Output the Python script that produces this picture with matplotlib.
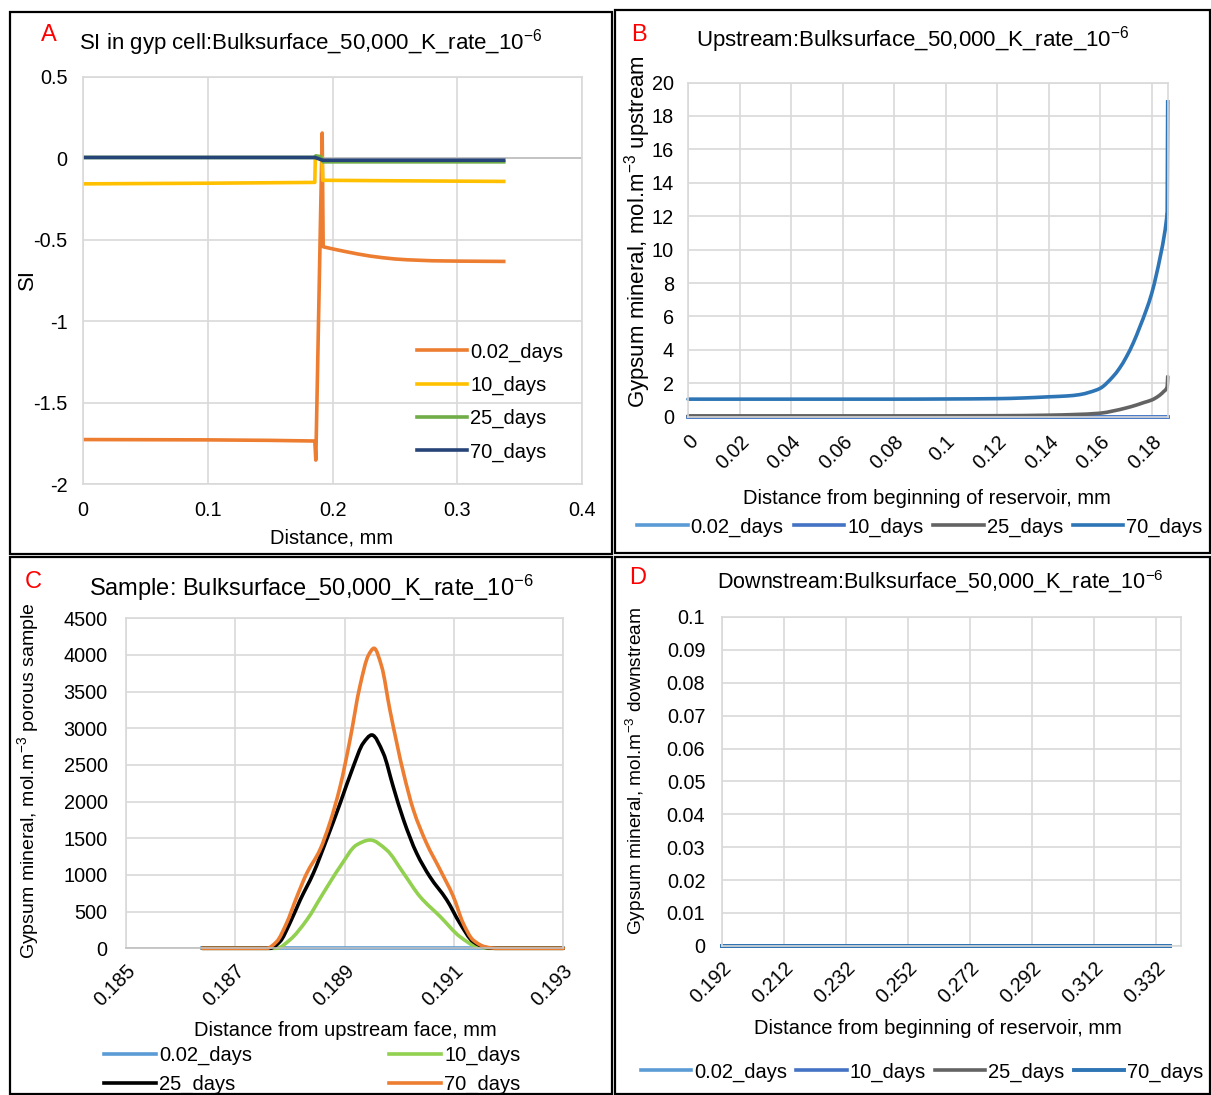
import numpy as np
import matplotlib
matplotlib.use('Agg')
import matplotlib.pyplot as plt
from matplotlib.patches import Rectangle, PathPatch
from matplotlib.path import Path

plt.rcParams['font.family'] = ['Liberation Sans', 'DejaVu Sans']
plt.rcParams['mathtext.default'] = 'regular'
plt.rcParams['axes.unicode_minus'] = False

# ---------------- data ----------------
days = ['0.02_days', '10_days', '25_days', '70_days']

# A: saturation index in gypsum cell
a_x_002 = [0, 0.05, 0.10, 0.15, 0.1858, 0.1866, 0.1917, 0.1925, 0.20, 0.21, 0.22, 0.23, 0.24, 0.25, 0.26, 0.28, 0.30, 0.337]
a_y_002 = [-1.726, -1.727, -1.728, -1.731, -1.735, -1.852, 0.155, -0.543, -0.556, -0.572, -0.587, -0.600, -0.610, -0.618, -0.623, -0.629, -0.631, -0.633]
a_x_10 = [0, 0.10, 0.1858, 0.1862, 0.1915, 0.1922, 0.25, 0.337]
a_y_10 = [-0.157, -0.153, -0.148, 0.005, 0.005, -0.135, -0.138, -0.142]
a_x_25 = [0, 0.1858, 0.1866, 0.1905, 0.1925, 0.337]
a_y_25 = [0.005, 0.005, 0.015, 0.010, -0.022, -0.022]
a_x_70 = [0, 0.186, 0.192, 0.337]
a_y_70 = [0.005, 0.005, -0.012, -0.012]

# B: upstream reservoir
b_x_flat = [0, 0.1862]
b_y_002 = [0, 0]
b_y_10 = [0, 0]
b_x_25 = [0, 0.04, 0.08, 0.12, 0.14, 0.15, 0.16, 0.1649, 0.17, 0.1741, 0.177, 0.18, 0.1825, 0.1846, 0.1860, 0.1862]
b_y_25 = [0.05, 0.05, 0.05, 0.06, 0.09, 0.13, 0.21, 0.34, 0.52, 0.70, 0.85, 1.0, 1.22, 1.5, 1.8, 2.4]
b_x_70 = [0, 0.02, 0.04, 0.06, 0.08, 0.10, 0.12, 0.13, 0.14, 0.147, 0.152, 0.156, 0.16, 0.1649, 0.1675,
          0.1702, 0.1728, 0.1754, 0.1778, 0.18, 0.1818, 0.1833, 0.1852, 0.1860, 0.1862]
b_y_70 = [1.05, 1.05, 1.05, 1.05, 1.05, 1.06, 1.08, 1.12, 1.19, 1.24, 1.32, 1.47, 1.70, 2.39, 2.90,
          3.59, 4.40, 5.38, 6.35, 7.38, 8.50, 9.57, 11.17, 12.16, 18.84]

# C: porous sample
c_x_002 = [0.1864, 0.1930]
c_y_002 = [0, 0]
c_x_10 = [0.1864, 0.18776, 0.18800, 0.18831, 0.18861, 0.18892, 0.18922, 0.18947, 0.18977, 0.19008,
          0.19038, 0.19075, 0.19111, 0.19142, 0.19165, 0.1930]
c_y_10 = [0, 0, 114, 386, 750, 1114, 1409, 1477, 1341, 1023, 705, 432, 159, 23, 0, 0]
c_x_25 = [0.1864, 0.18764, 0.18782, 0.18800, 0.18819, 0.18843, 0.18867, 0.18892, 0.18916, 0.18934,
          0.18950, 0.18971, 0.18989, 0.19008, 0.19032, 0.19056, 0.19087, 0.19111, 0.19135, 0.19160,
          0.19175, 0.1930]
c_y_25 = [0, 0, 91, 341, 659, 1023, 1477, 1977, 2477, 2795, 2909, 2659, 2205, 1750, 1295, 977,
          659, 341, 91, 9, 0, 0]
c_x_70 = [0.1864, 0.18758, 0.18776, 0.18794, 0.18813, 0.18831, 0.18855, 0.18873, 0.18892, 0.18910,
          0.18928, 0.18944, 0.18954, 0.18968, 0.18983, 0.19008, 0.19026, 0.19050, 0.19075, 0.19099,
          0.19117, 0.19135, 0.19160, 0.19180, 0.1930]
c_y_70 = [0, 0, 91, 341, 705, 1023, 1341, 1705, 2205, 2841, 3568, 4000, 4091, 3841, 3250, 2386,
          1886, 1432, 1068, 705, 341, 114, 14, 0, 0]

# D: downstream reservoir
d_x = [0.192, 0.3365]
d_y = [0, 0]

a_xticks = [0, 0.1, 0.2, 0.3, 0.4]
a_yticks = [0.5, 0, -0.5, -1, -1.5, -2]
b_xticks = [0, 0.02, 0.04, 0.06, 0.08, 0.1, 0.12, 0.14, 0.16, 0.18]
b_yticks = [0, 2, 4, 6, 8, 10, 12, 14, 16, 18, 20]
c_xticks = [0.185, 0.187, 0.189, 0.191, 0.193]
c_yticks = [0, 500, 1000, 1500, 2000, 2500, 3000, 3500, 4000, 4500]
d_xticks = [0.192, 0.212, 0.232, 0.252, 0.272, 0.292, 0.312, 0.332]
d_yticks = [0, 0.01, 0.02, 0.03, 0.04, 0.05, 0.06, 0.07, 0.08, 0.09, 0.1]

# ---------------- figure ----------------
W, H = 1211, 1095
fig = plt.figure(figsize=(W / 100, H / 100), dpi=100)

FS = 14.3      # ticks
FL = 14.5      # x labels, legends
FT = 16        # titles
LW = 2.6
grid_c = '#d9d9d9'


def box(x0, y0, x1, y1):
    return [x0 / W, 1 - y1 / H, (x1 - x0) / W, (y1 - y0) / H]


def ftext(x, y, s, **kw):
    fig.text(x / W, 1 - y / H, s, ha='center', va='center', **kw)


def style(ax):
    ax.grid(True, color=grid_c, lw=1.2)
    ax.set_axisbelow(True)
    for s in ax.spines.values():
        s.set_color(grid_c)
        s.set_linewidth(1.2)
    ax.tick_params(length=0, labelsize=FS, pad=11)


def smooth_line(ax, x, y, color, label, lw=LW):
    # Excel style "smoothed line": bezier segments through the data points
    # (monotone hermite tangents so the curve does not overshoot)
    x = np.asarray(x, float)
    y = np.asarray(y, float)
    h = np.diff(x)
    d = np.diff(y) / h
    m = np.zeros_like(y)
    m[0], m[-1] = d[0], d[-1]
    for k in range(1, len(x) - 1):
        if d[k - 1] * d[k] > 0:
            w1 = 2 * h[k] + h[k - 1]
            w2 = h[k] + 2 * h[k - 1]
            m[k] = (w1 + w2) / (w1 / d[k - 1] + w2 / d[k])
    verts = [(x[0], y[0])]
    codes = [Path.MOVETO]
    for i in range(len(x) - 1):
        verts += [(x[i] + h[i] / 3, y[i] + m[i] * h[i] / 3),
                  (x[i + 1] - h[i] / 3, y[i + 1] - m[i + 1] * h[i] / 3),
                  (x[i + 1], y[i + 1])]
        codes += [Path.CURVE4] * 3
    ax.add_patch(PathPatch(Path(verts, codes), fill=False, ec=color, lw=lw,
                           capstyle='round', zorder=2, clip_on=False))
    hnd, = ax.plot([], [], color=color, lw=lw, label=label)
    return hnd


# panel borders
for (x0, y0, x1, y1) in [(10, 12, 612, 554), (615, 10, 1210, 553), (10, 557, 612, 1094), (615, 557, 1210, 1094)]:
    fig.add_artist(Rectangle((x0 / W, 1 - y1 / H), (x1 - x0) / W, (y1 - y0) / H,
                             transform=fig.transFigure, fill=False, ec='black', lw=1.6))

# ---- A ----
ax = fig.add_axes(box(82.7, 76.8, 582.4, 484.2))
style(ax)
ax.axhline(0, color='#bfbfbf', lw=1.2, zorder=1)
ax.plot(a_x_002, a_y_002, color='#ED7D31', lw=LW, label=days[0])
ax.plot(a_x_10, a_y_10, color='#FFC000', lw=LW, label=days[1])
ax.plot(a_x_25, a_y_25, color='#70AD47', lw=LW, label=days[2])
ax.plot(a_x_70, a_y_70, color='#264478', lw=LW, label=days[3])
ax.set_xlim(0, 0.4)
ax.set_ylim(-2, 0.5)
ax.set_xticks(a_xticks, ['%g' % v for v in a_xticks])
ax.set_yticks(a_yticks, ['%g' % v for v in a_yticks])
ax.tick_params(axis='x', pad=12)
ax.legend(loc='center', bbox_to_anchor=(490 / W, 1 - 402 / H), bbox_transform=fig.transFigure,
          frameon=False, fontsize=FL, handlelength=2.5, handletextpad=0.15, labelspacing=0.7)
ftext(311, 43, 'SI in gyp cell:Bulksurface_50,000_K_rate_10$^{-6}$', fontsize=FT)
ftext(49, 35, 'A', fontsize=17, color='red')
ftext(27, 280, 'SI', fontsize=FT, rotation=90)
ftext(332, 538, 'Distance, mm', fontsize=FL)

# ---- B ----
ax = fig.add_axes(box(688, 82.5, 1167.7, 416.7))
style(ax)
ax.plot(b_x_flat, b_y_002, color='#5B9BD5', lw=LW, label=days[0], clip_on=False)
ax.plot(b_x_flat, b_y_10, color='#4472C4', lw=LW, label=days[1], clip_on=False)
smooth_line(ax, b_x_25, b_y_25, '#636363', days[2])
smooth_line(ax, b_x_70[:-1], b_y_70[:-1], '#2E75B6', days[3])
ax.plot(b_x_70[-2:], b_y_70[-2:], color='#2E75B6', lw=LW, clip_on=False)
ax.set_xlim(0, 0.1862)
ax.set_ylim(0, 20)
ax.set_xticks(b_xticks, ['%g' % v for v in b_xticks], rotation=45, ha='right', rotation_mode='anchor')
ax.set_yticks(b_yticks, ['%g' % v for v in b_yticks])
ax.tick_params(axis='x', pad=11)
ax.tick_params(axis='y', pad=10)
ax.legend(loc='center', bbox_to_anchor=(920 / W, 1 - 527 / H), bbox_transform=fig.transFigure,
          ncol=4, frameon=False, fontsize=FL, handlelength=2.5, handletextpad=0.15, columnspacing=0.5)
ftext(913, 40, 'Upstream:Bulksurface_50,000_K_rate_10$^{-6}$', fontsize=FT)
ftext(639, 35, 'B', fontsize=17, color='red')
ftext(638, 232, 'Gypsum mineral, mol.m$^{-3}$ upstream', fontsize=16, rotation=90)
ftext(927, 499, 'Distance from beginning of reservoir, mm', fontsize=FL)

# ---- C ----
ax = fig.add_axes(box(125.7, 618.3, 563.3, 948.3))
style(ax)
ax.spines['bottom'].set_color('#bfbfbf')
l1, = ax.plot(c_x_002, c_y_002, color='#5B9BD5', lw=LW, label=days[0], clip_on=False, zorder=1.9)
l2 = smooth_line(ax, c_x_10, c_y_10, '#92D050', days[1])
l3 = smooth_line(ax, c_x_25, c_y_25, 'black', days[2])
l4 = smooth_line(ax, c_x_70, c_y_70, '#ED7D31', days[3])
ax.set_xlim(0.185, 0.193)
ax.set_ylim(0, 4500)
ax.set_xticks(c_xticks, ['%g' % v for v in c_xticks], rotation=45, ha='right', rotation_mode='anchor')
ax.set_yticks(c_yticks, ['%g' % v for v in c_yticks])
ax.tick_params(axis='x', pad=9)
ax.tick_params(axis='y', pad=13)
ax.legend([l1, l3, l2, l4], [days[0], days[2], days[1], days[3]], loc='center',
          bbox_to_anchor=(312 / W, 1 - 1070 / H), bbox_transform=fig.transFigure,
          ncol=2, frameon=False, fontsize=FL, handlelength=2.6, handletextpad=0.15,
          columnspacing=6.8, labelspacing=0.5)
ftext(311, 588, 'Sample: Bulksurface_50,000_K_rate_10$^{-6}$', fontsize=17)
ftext(33, 582, 'C', fontsize=17, color='red')
ftext(28, 781, 'Gypsum mineral, mol.m$^{-3}$ porous sample', fontsize=14, rotation=90)
ftext(345, 1030, 'Distance from upstream face, mm', fontsize=FL)

# ---- D ----
ax = fig.add_axes(box(722, 617, 1181, 945.8))
style(ax)
ax.plot(d_x, d_y, color='#5B9BD5', lw=LW, label=days[0], clip_on=False)
ax.plot(d_x, d_y, color='#4472C4', lw=LW, label=days[1], clip_on=False)
ax.plot(d_x, d_y, color='#636363', lw=LW, label=days[2], clip_on=False)
ax.plot(d_x, d_y, color='#2E75B6', lw=2.8, label=days[3], clip_on=False)
ax.set_xlim(0.192, 0.340)
ax.set_ylim(0, 0.1)
ax.set_xticks(d_xticks, ['%g' % v for v in d_xticks], rotation=45, ha='right', rotation_mode='anchor')
ax.set_yticks(d_yticks, ['%g' % v for v in d_yticks])
ax.tick_params(axis='x', pad=9)
ax.tick_params(axis='y', pad=12)
ax.legend(loc='center', bbox_to_anchor=(922 / W, 1 - 1072 / H), bbox_transform=fig.transFigure,
          ncol=4, frameon=False, fontsize=FL, handlelength=2.5, handletextpad=0.15, columnspacing=0.45)
ftext(940, 582, 'Downstream:Bulksurface_50,000_K_rate_10$^{-6}$', fontsize=15.5)
ftext(638, 578, 'D', fontsize=17, color='red')
ftext(636, 771, 'Gypsum mineral, mol.m$^{-3}$ downstream', fontsize=13.8, rotation=90)
ftext(938, 1028, 'Distance from beginning of reservoir, mm', fontsize=FL)

fig.savefig('out.png', dpi=100)
